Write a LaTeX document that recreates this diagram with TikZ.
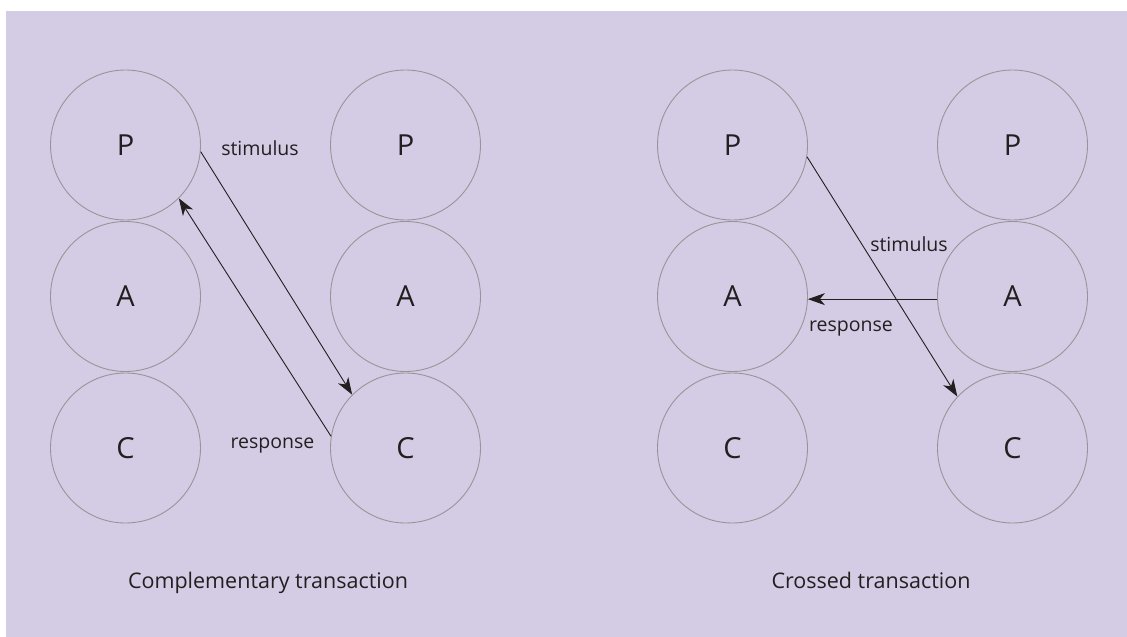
\documentclass[tikz,border=0pt]{standalone}
\usepackage{fontspec}
\setmainfont{Open Sans}
\usetikzlibrary{arrows.meta}
\definecolor{bgcol}{RGB}{212,204,228}
\definecolor{ringcol}{RGB}{150,150,152}
\definecolor{inkcol}{RGB}{35,31,32}
\tikzset{
  ego/.style={circle, draw=ringcol, line width=0.9pt, minimum size=150pt, inner sep=0pt,
    text=inkcol, font=\fontsize{29}{30}\selectfont},
  link/.style={draw=inkcol, line width=0.9pt, -{Stealth[length=17pt,width=12pt,inset=5pt]}},
  lbl/.style={text=inkcol, font=\fontsize{19.5}{21}\selectfont, inner sep=0pt, anchor=base},
  ttl/.style={text=inkcol, font=\fontsize{21.5}{24}\selectfont, inner sep=0pt, anchor=base}
}
\begin{document}
\begin{tikzpicture}[x=1pt,y=-1pt]
\useasboundingbox (0,0) rectangle (1127,637);
\fill[bgcol] (6,11) rectangle (1127,637);
% left pair
\node[ego] (P1) at (125.5,145) {P};
\node[ego] (A1) at (125.5,296.5) {A};
\node[ego] (C1) at (125.5,448) {C};
\node[ego] (P2) at (405.5,145) {P};
\node[ego] (A2) at (405.5,296.5) {A};
\node[ego] (C2) at (405.5,448) {C};
% right pair
\node[ego] (P3) at (732.5,145) {P};
\node[ego] (A3) at (732.5,296.5) {A};
\node[ego] (C3) at (732.5,448) {C};
\node[ego] (P4) at (1012.5,145) {P};
\node[ego] (A4) at (1012.5,296.5) {A};
\node[ego] (C4) at (1012.5,448) {C};
% connectors
\draw[link] (P1.-5) -- (C2.135);
\draw[link] (C2.171) -- (P1.-45);
\draw[link] (P3.-9) -- (C4.137);
\draw[link] (A4.182) -- (A3.-2);
% labels
\node[lbl] (s1) at (260,155.3) {stimulus};
\node[lbl] (r1) at (272.5,448) {response};
\node[lbl] (s2) at (909,251.5) {stimulus};
\node[lbl] (r2) at (851,331) {response};
\node[ttl] (t1) at (268,588.3) {Complementary transaction};
\node[ttl] (t2) at (871,588.3) {Crossed transaction};
\end{tikzpicture}
\end{document}
